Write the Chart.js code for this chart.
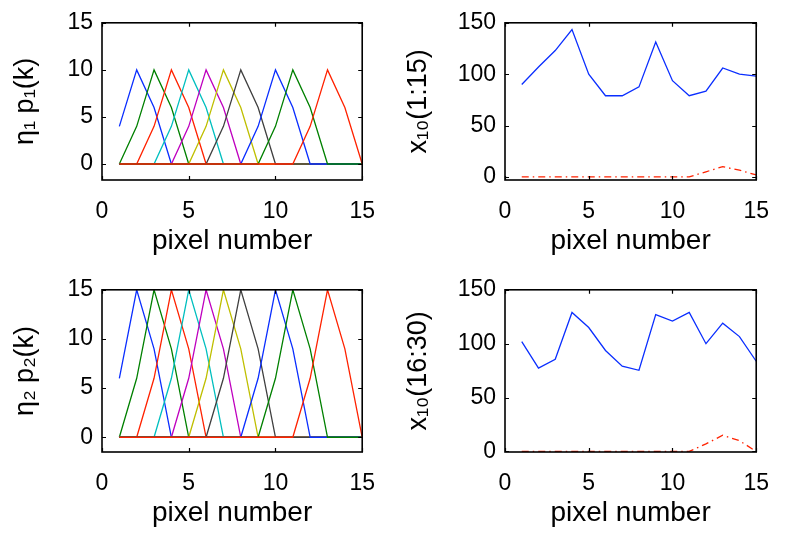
<!DOCTYPE html>
<html>
<head>
<meta charset="utf-8">
<script src="https://cdn.jsdelivr.net/npm/chart.js@4.4.1/dist/chart.umd.min.js"></script>
<style>
  html, body { margin: 0; padding: 0; background: #fff; }
  #wrap { position: relative; width: 787px; height: 534px; overflow: hidden; }
  .cell { position: absolute; }
</style>
</head>
<body>
<div id="wrap">
  <div class="cell" style="left:0;top:0;width:393px;height:267px"><canvas id="c1" width="393" height="267"></canvas></div>
  <div class="cell" style="left:393px;top:0;width:394px;height:267px"><canvas id="c2" width="394" height="267"></canvas></div>
  <div class="cell" style="left:0;top:267px;width:393px;height:267px"><canvas id="c3" width="393" height="267"></canvas></div>
  <div class="cell" style="left:393px;top:267px;width:394px;height:267px"><canvas id="c4" width="394" height="267"></canvas></div>
</div>
<script>
// ---------------- data ----------------
const pixels = [1, 2, 3, 4, 5, 6, 7, 8, 9, 10, 11, 12, 13, 14, 15];
const xTicks = [0, 5, 10, 15];
const etaTicks = [0, 5, 10, 15];
const xTenTicks = [0, 50, 100, 150];

// eta_1 p_1(k), one row per profile
const etaP1 = [
  [4, 10, 6, 0, 0, 0, 0, 0, 0, 0, 0, 0, 0, 0, 0],
  [0, 4, 10, 6, 0, 0, 0, 0, 0, 0, 0, 0, 0, 0, 0],
  [0, 0, 4, 10, 6, 0, 0, 0, 0, 0, 0, 0, 0, 0, 0],
  [0, 0, 0, 4, 10, 6, 0, 0, 0, 0, 0, 0, 0, 0, 0],
  [0, 0, 0, 0, 4, 10, 6, 0, 0, 0, 0, 0, 0, 0, 0],
  [0, 0, 0, 0, 0, 4, 10, 6, 0, 0, 0, 0, 0, 0, 0],
  [0, 0, 0, 0, 0, 0, 4, 10, 6, 0, 0, 0, 0, 0, 0],
  [0, 0, 0, 0, 0, 0, 0, 0, 4, 10, 6, 0, 0, 0, 0],
  [0, 0, 0, 0, 0, 0, 0, 0, 0, 4, 10, 6, 0, 0, 0],
  [0, 0, 0, 0, 0, 0, 0, 0, 0, 0, 0, 4, 10, 6, 0]
];
// eta_2 p_2(k)
const etaP2 = [
  [6, 15, 9, 0, 0, 0, 0, 0, 0, 0, 0, 0, 0, 0, 0],
  [0, 6, 15, 9, 0, 0, 0, 0, 0, 0, 0, 0, 0, 0, 0],
  [0, 0, 6, 15, 9, 0, 0, 0, 0, 0, 0, 0, 0, 0, 0],
  [0, 0, 0, 6, 15, 9, 0, 0, 0, 0, 0, 0, 0, 0, 0],
  [0, 0, 0, 0, 6, 15, 9, 0, 0, 0, 0, 0, 0, 0, 0],
  [0, 0, 0, 0, 0, 6, 15, 9, 0, 0, 0, 0, 0, 0, 0],
  [0, 0, 0, 0, 0, 0, 6, 15, 9, 0, 0, 0, 0, 0, 0],
  [0, 0, 0, 0, 0, 0, 0, 0, 6, 15, 9, 0, 0, 0, 0],
  [0, 0, 0, 0, 0, 0, 0, 0, 0, 6, 15, 9, 0, 0, 0],
  [0, 0, 0, 0, 0, 0, 0, 0, 0, 0, 0, 6, 15, 9, 0]
];
// x_10(1:15)
const x10First = [90, 107, 123, 143.5, 100, 79, 79, 87.6, 131.4, 93.7, 79, 83.4, 106, 100, 98];
const x10FirstRed = [0, 0, 0, 0, 0, 0, 0, 0, 0, 0, 0, 5, 10, 6.5, 2];
// x_10(16:30)
const x10Second = [102, 77.4, 85.5, 129, 115, 93.7, 79.2, 75.3, 127, 121, 129, 100, 119, 106.6, 83.7];
const x10SecondRed = [0, 0, 0, 0, 0, 0, 0, 0, 0, 0, 0, 7, 15, 10, 0];

// ---------------- style ----------------
const cycle = ['#0a2eff', '#008000', '#ff2200', '#00bfbf', '#bf00bf', '#bfbf00', '#404040'];
const FONT = "'Liberation Sans', Arial, Helvetica, sans-serif";

const boxPlugin = {
  id: 'matlabBox',
  afterDraw(chart) {
    const {ctx, chartArea: a, scales} = chart;
    ctx.save();
    ctx.strokeStyle = '#000';
    ctx.lineWidth = 1.2;
    const tl = 4;
    ctx.beginPath();
    scales.x.ticks.forEach(t => {
      const px = Math.round(scales.x.getPixelForValue(t.value)) + 0.5;
      ctx.moveTo(px, a.bottom); ctx.lineTo(px, a.bottom - tl);
      ctx.moveTo(px, a.top); ctx.lineTo(px, a.top + tl);
    });
    scales.y.ticks.forEach(t => {
      const py = Math.round(scales.y.getPixelForValue(t.value)) + 0.5;
      ctx.moveTo(a.left, py); ctx.lineTo(a.left + tl, py);
      ctx.moveTo(a.right, py); ctx.lineTo(a.right - tl, py);
    });
    ctx.stroke();
    ctx.lineWidth = 1.6;
    ctx.strokeRect(a.left, a.top, a.right - a.left, a.bottom - a.top);
    ctx.restore();
  }
};

function makeChart(id, datasets, yMin, yMax, yTicks, yTitle, geo) {
  const ctx = document.getElementById(id);
  return new Chart(ctx, {
    type: 'line',
    data: { datasets },
    plugins: [boxPlugin],
    options: {
      responsive: false,
      animation: false,
      devicePixelRatio: 1,
      layout: { padding: { left: 0, top: geo.top, right: geo.right, bottom: 0 } },
      plugins: { legend: { display: false }, tooltip: { enabled: false } },
      elements: { point: { radius: 0 }, line: { tension: 0, borderWidth: 1.3 } },
      scales: {
        x: {
          type: 'linear', min: 0, max: 15,
          afterBuildTicks: s => { s.ticks = xTicks.map(v => ({ value: v })); },
          afterFit: s => { s.height = geo.xh; },
          grid: { display: false, drawTicks: false },
          border: { display: false },
          ticks: { padding: 18, color: '#000', font: { family: FONT, size: 23 } },
          title: { display: true, text: 'pixel number', color: '#000',
                   font: { family: FONT, size: 28 }, padding: { top: 0, bottom: geo.tpb } }
        },
        y: {
          type: 'linear', min: yMin, max: yMax,
          afterBuildTicks: s => { s.ticks = yTicks.map(v => ({ value: v })); },
          afterFit: s => { s.width = geo.yw; },
          grid: { display: false, drawTicks: false },
          border: { display: false },
          ticks: { padding: 9, color: '#000', font: { family: FONT, size: 23 } },
          title: { display: true, text: yTitle, color: '#000',
                   font: { family: FONT, size: 27 }, padding: { top: 9, bottom: 0 } }
        }
      }
    }
  });
}

function profileSets(rows) {
  return rows.map((r, i) => ({
    data: r.map((v, k) => ({ x: pixels[k], y: v })),
    borderColor: cycle[i % cycle.length],
    order: -i,
    fill: false
  }));
}
function signalSets(blue, red) {
  return [
    { data: red.map((v, k) => ({ x: pixels[k], y: v })), borderColor: '#ff2200',
      borderDash: [7, 4, 1.5, 4], order: 1, fill: false },
    { data: blue.map((v, k) => ({ x: pixels[k], y: v })), borderColor: '#0a2eff',
      order: 0, fill: false }
  ];
}

makeChart('c1', profileSets(etaP1), -1.7, 15, etaTicks, 'η₁ p₁(k)', { top: 14, right: 25, xh: 87, yw: 102, tpb: 9 });
makeChart('c2', signalSets(x10First, x10FirstRed), -3, 150, xTenTicks, 'x₁₀(1:15)', { top: 14, right: 15, xh: 87, yw: 112, tpb: 9 });
makeChart('c3', profileSets(etaP2), -1.5, 15, etaTicks, 'η₂ p₂(k)', { top: 18, right: 25, xh: 82, yw: 102, tpb: 4 });
makeChart('c4', signalSets(x10Second, x10SecondRed), -0.5, 150, xTenTicks, 'x₁₀(16:30)', { top: 18, right: 15, xh: 82, yw: 112, tpb: 4 });
</script>
</body>
</html>
